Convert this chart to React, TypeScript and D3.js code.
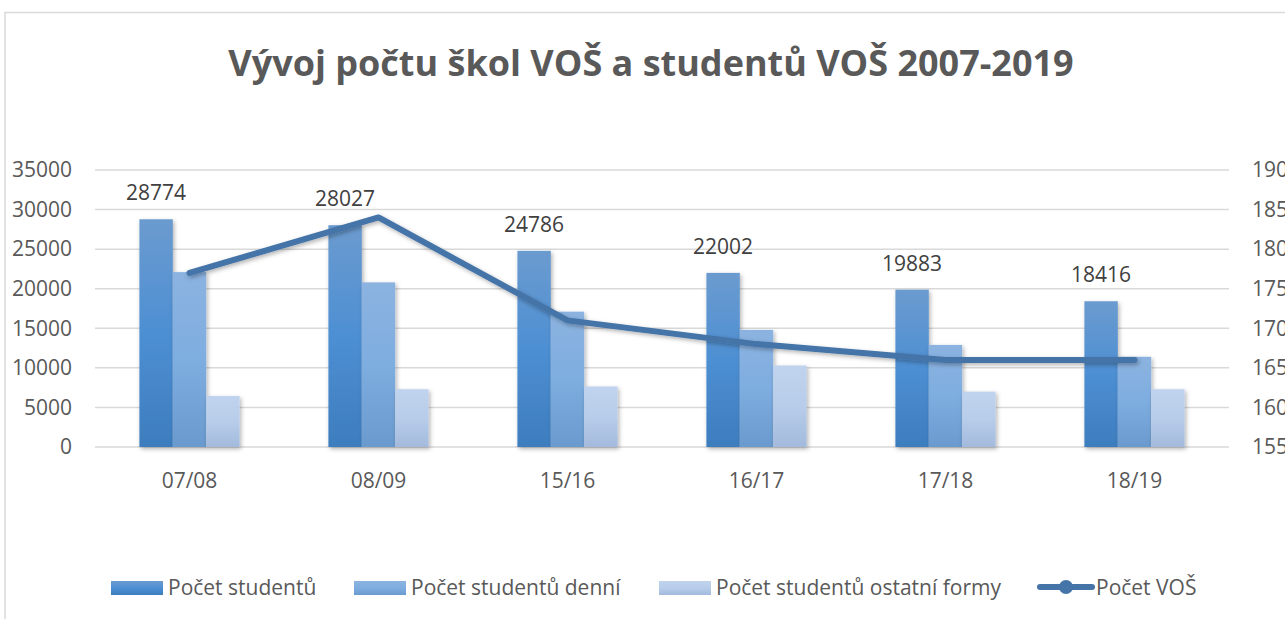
import React, { useEffect, useRef } from "react";
import {
  select,
  scaleBand,
  scaleLinear,
  axisLeft,
  axisRight,
  line,
  curveLinear
} from "d3";

const categories = ["07/08", "08/09", "15/16", "16/17", "17/18", "18/19"];
const studentsTotal = [28774, 28027, 24786, 22002, 19883, 18416];
const studentsDaily = [22100, 20800, 17100, 14800, 12900, 11400];
const studentsOther = [6450, 7300, 7650, 10300, 7000, 7300];
const schools = [177, 184, 171, 168, 166, 166];

const leftTicks = [0, 5000, 10000, 15000, 20000, 25000, 30000, 35000];
const rightTicks = [155, 160, 165, 170, 175, 180, 185, 190];

const seriesNames = [
  "Počet studentů",
  "Počet studentů denní",
  "Počet studentů ostatní formy",
  "Počet VOŠ"
];

const WIDTH = 1285;
const HEIGHT = 619;
const FONT = "'Open Sans', 'Noto Sans', sans-serif";

// gradients for the three bar series: [top, middle, bottom]
const barGradients = [
  ["#6b9bcf", "#4d8fd3", "#3d7dbe"],
  ["#8cb3e0", "#7eade0", "#6a9ace"],
  ["#c0d3ee", "#b8cdea", "#a3badd"]
];

function App() {
  const svgRef = useRef<SVGSVGElement>(null);

  useEffect(() => {
    const svg = select(svgRef.current);
    svg.selectAll("*").remove();

    const margin = { left: 95, right: 56, top: 170, bottom: 172 };
    const plotRight = WIDTH - margin.right;
    const plotBottom = HEIGHT - margin.bottom;

    const defs = svg.append("defs");
    barGradients.forEach((stops, i) => {
      const g = defs
        .append("linearGradient")
        .attr("id", `barGrad${i}`)
        .attr("x1", 0)
        .attr("y1", 0)
        .attr("x2", 0)
        .attr("y2", 1);
      g.append("stop").attr("offset", "0%").attr("stop-color", stops[0]);
      g.append("stop").attr("offset", "50%").attr("stop-color", stops[1]);
      g.append("stop").attr("offset", "100%").attr("stop-color", stops[2]);
    });
    const shadow = defs
      .append("filter")
      .attr("id", "shadow")
      .attr("x", "-20%")
      .attr("y", "-20%")
      .attr("width", "150%")
      .attr("height", "150%");
    shadow
      .append("feDropShadow")
      .attr("dx", 1.5)
      .attr("dy", 2)
      .attr("stdDeviation", 2)
      .attr("flood-color", "#000")
      .attr("flood-opacity", 0.3);

    // chart frame
    svg
      .append("path")
      .attr("d", `M5,${HEIGHT} V12.5 H${WIDTH}`)
      .attr("fill", "none")
      .attr("stroke", "#d9d9d9")
      .attr("stroke-width", 1.5);

    // title
    svg
      .append("text")
      .attr("x", 651)
      .attr("y", 76)
      .attr("text-anchor", "middle")
      .attr("font-family", FONT)
      .attr("font-weight", "bold")
      .attr("font-size", 36)
      .attr("fill", "#595959")
      .text("Vývoj počtu škol VOŠ a studentů VOŠ 2007-2019");

    // scales
    const x0 = scaleBand<string>()
      .domain(categories)
      .range([margin.left, plotRight])
      .paddingInner(0.47)
      .paddingOuter(0.235);
    const keys = [0, 1, 2];
    const x1 = scaleBand<number>()
      .domain(keys)
      .range([0, x0.bandwidth()]);
    const yLeft = scaleLinear().domain([0, 35000]).range([plotBottom, margin.top]);
    const yRight = scaleLinear().domain([155, 190]).range([plotBottom, margin.top]);

    // gridlines
    svg
      .append("g")
      .selectAll("line")
      .data(leftTicks)
      .join("line")
      .attr("x1", margin.left)
      .attr("x2", plotRight)
      .attr("y1", d => yLeft(d))
      .attr("y2", d => yLeft(d))
      .attr("stroke", "#d9d9d9")
      .attr("stroke-width", 1.5);

    // axes
    const leftAxis = svg
      .append("g")
      .attr("transform", `translate(${margin.left},0)`)
      .call(
        axisLeft(yLeft)
          .tickValues(leftTicks)
          .tickFormat(d => String(d))
          .tickSize(0)
          .tickPadding(23)
      );
    const rightAxis = svg
      .append("g")
      .attr("transform", `translate(${plotRight},0)`)
      .call(
        axisRight(yRight)
          .tickValues(rightTicks)
          .tickFormat(d => String(d))
          .tickSize(0)
          .tickPadding(23)
      );
    [leftAxis, rightAxis].forEach(a => {
      a.select(".domain").remove();
      a.selectAll("text")
        .attr("font-family", FONT)
        .attr("font-size", 21)
        .attr("fill", "#595959");
    });

    // category labels
    svg
      .append("g")
      .selectAll("text")
      .data(categories)
      .join("text")
      .attr("x", d => (x0(d) as number) + x0.bandwidth() / 2)
      .attr("y", 488)
      .attr("text-anchor", "middle")
      .attr("font-family", FONT)
      .attr("font-size", 21)
      .attr("fill", "#595959")
      .text(d => d);

    // bars
    const seriesValues = [studentsTotal, studentsDaily, studentsOther];
    const groups = svg
      .append("g")
      .selectAll("g")
      .data(categories)
      .join("g")
      .attr("transform", d => `translate(${x0(d)},0)`);
    groups
      .selectAll("rect")
      .data((_, i) => keys.map(k => ({ k, v: seriesValues[k][i] })))
      .join("rect")
      .attr("x", d => x1(d.k) as number)
      .attr("width", x1.bandwidth())
      .attr("y", d => yLeft(d.v))
      .attr("height", d => plotBottom - yLeft(d.v))
      .attr("fill", d => `url(#barGrad${d.k})`)
      .attr("filter", "url(#shadow)");

    // data labels above the first series
    svg
      .append("g")
      .selectAll("text")
      .data(categories)
      .join("text")
      .attr("x", d => (x0(d) as number) + (x1(0) as number) + x1.bandwidth() / 2)
      .attr("y", (_, i) => yLeft(studentsTotal[i]) - 19)
      .attr("text-anchor", "middle")
      .attr("font-family", FONT)
      .attr("font-size", 21)
      .attr("fill", "#404040")
      .text((_, i) => studentsTotal[i]);

    // line for number of schools
    const lineGen = line<number>()
      .x((_, i) => (x0(categories[i]) as number) + x0.bandwidth() / 2)
      .y(d => yRight(d))
      .curve(curveLinear);
    svg
      .append("path")
      .datum(schools)
      .attr("d", lineGen)
      .attr("fill", "none")
      .attr("stroke", "#4574a8")
      .attr("stroke-width", 6)
      .attr("stroke-linecap", "round")
      .attr("stroke-linejoin", "round")
      .attr("filter", "url(#shadow)");

    // legend
    const legend = svg
      .append("g")
      .attr("font-family", FONT)
      .attr("font-size", 21)
      .attr("fill", "#595959");
    const swatchX = [111, 354, 659];
    keys.forEach(k => {
      legend
        .append("rect")
        .attr("x", swatchX[k])
        .attr("y", 581)
        .attr("width", 52)
        .attr("height", 14)
        .attr("fill", `url(#barGrad${k})`);
      legend
        .append("text")
        .attr("x", swatchX[k] + 57)
        .attr("y", 595)
        .text(seriesNames[k]);
    });
    legend
      .append("line")
      .attr("x1", 1040)
      .attr("x2", 1092)
      .attr("y1", 587)
      .attr("y2", 587)
      .attr("stroke", "#4574a8")
      .attr("stroke-width", 6)
      .attr("stroke-linecap", "round");
    legend
      .append("circle")
      .attr("cx", 1066)
      .attr("cy", 587)
      .attr("r", 7)
      .attr("fill", "#4574a8");
    legend
      .append("text")
      .attr("x", 1096)
      .attr("y", 595)
      .text(seriesNames[3]);
  }, []);

  return (
    <svg
      ref={svgRef}
      width={WIDTH}
      height={HEIGHT}
      style={{ position: "absolute", left: 0, top: 0, background: "#fff" }}
    />
  );
}

export default App;
